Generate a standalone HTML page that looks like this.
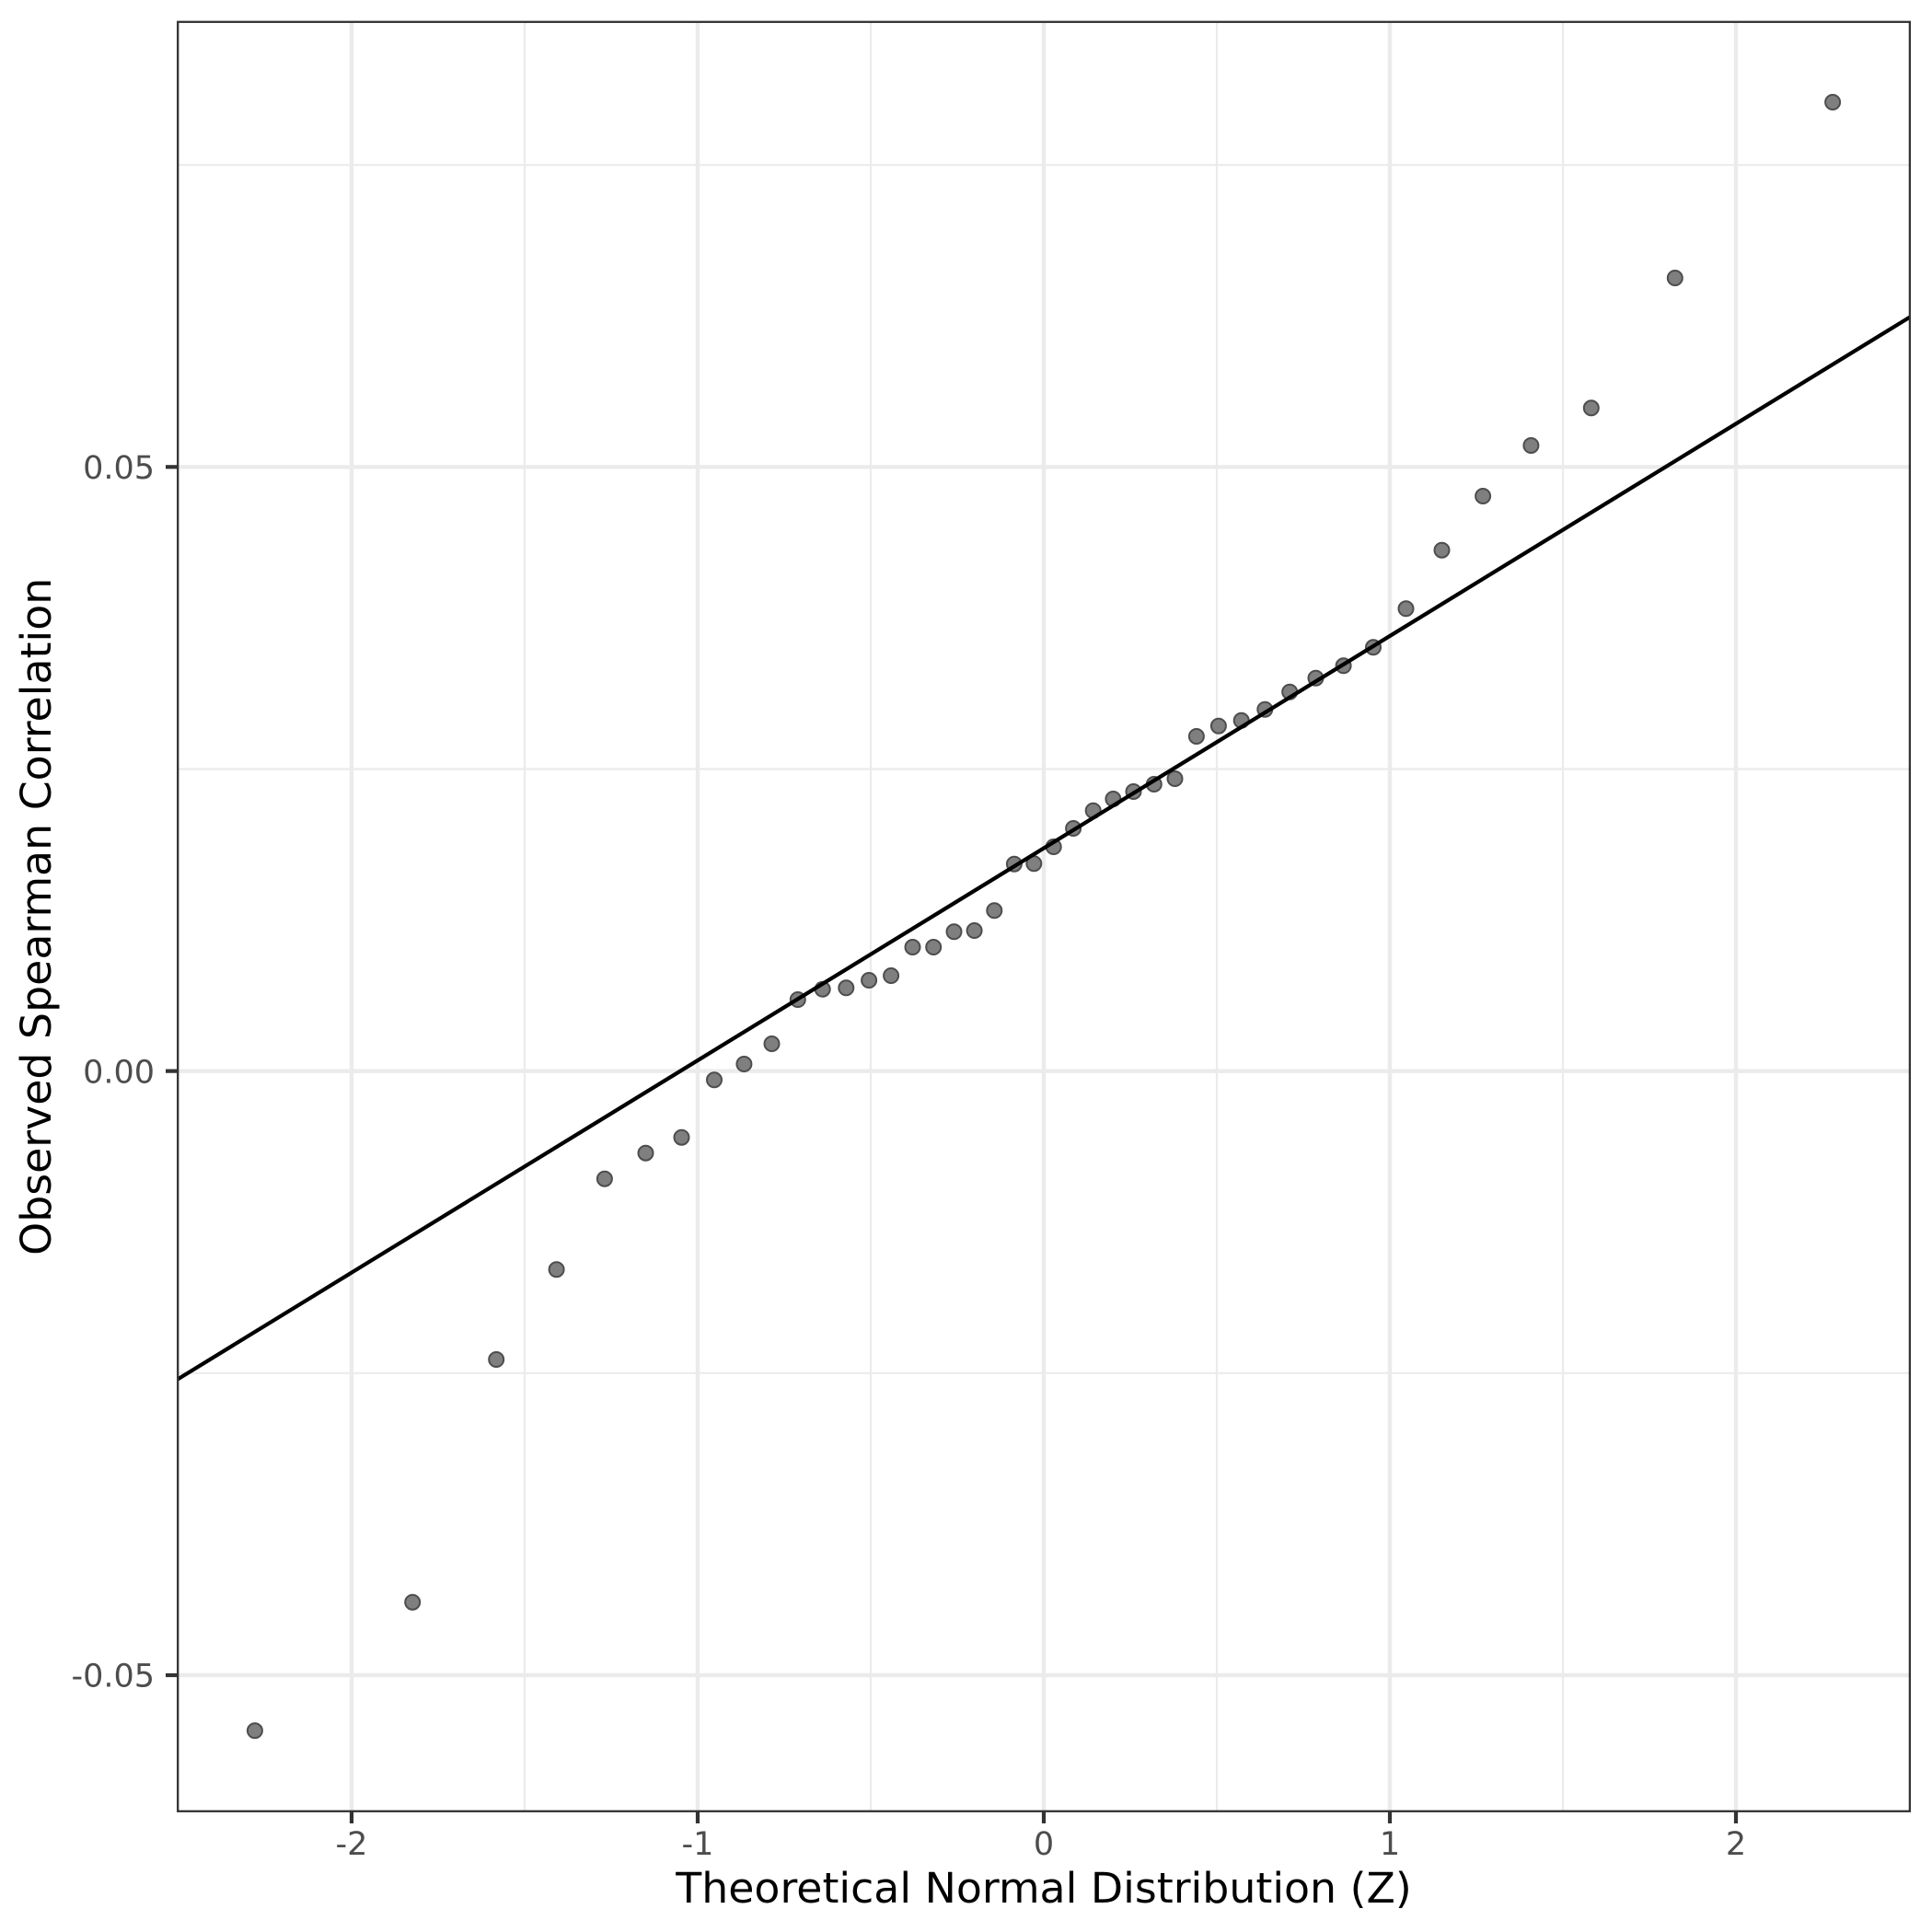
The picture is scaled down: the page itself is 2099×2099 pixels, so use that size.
<!DOCTYPE html>
<html>
<head>
<meta charset="utf-8">
<style>
html,body{margin:0;padding:0;background:#fff;}
svg{display:block;}
text{font-family:"DejaVu Sans","Liberation Sans",sans-serif;}
</style>
</head>
<body>
<svg width="2099" height="2099" viewBox="0 0 2099 2099" xmlns="http://www.w3.org/2000/svg">
<rect x="0" y="0" width="2099" height="2099" fill="#ffffff"/>
<g stroke="#ebebeb" stroke-width="2.2" fill="none">
<line x1="193" y1="179.2" x2="2075" y2="179.2"/>
<line x1="193" y1="835.5" x2="2075" y2="835.5"/>
<line x1="193" y1="1491.8" x2="2075" y2="1491.8"/>
<line x1="570" y1="24" x2="570" y2="1968"/>
<line x1="946" y1="24" x2="946" y2="1968"/>
<line x1="1322" y1="24" x2="1322" y2="1968"/>
<line x1="1698" y1="24" x2="1698" y2="1968"/>
</g>
<g stroke="#ebebeb" stroke-width="4.4" fill="none">
<line x1="193" y1="507.3" x2="2075" y2="507.3"/>
<line x1="193" y1="1163.65" x2="2075" y2="1163.65"/>
<line x1="193" y1="1820" x2="2075" y2="1820"/>
<line x1="382" y1="24" x2="382" y2="1968"/>
<line x1="758" y1="24" x2="758" y2="1968"/>
<line x1="1134" y1="24" x2="1134" y2="1968"/>
<line x1="1510" y1="24" x2="1510" y2="1968"/>
<line x1="1886" y1="24" x2="1886" y2="1968"/>
</g>
<g fill="#7f7f7f" stroke="#4d4d4d" stroke-width="2">
<circle cx="276.9" cy="1880.3" r="8"/>
<circle cx="448.2" cy="1740.7" r="8"/>
<circle cx="539.2" cy="1477" r="8"/>
<circle cx="604.6" cy="1379.3" r="8"/>
<circle cx="656.9" cy="1280.7" r="8"/>
<circle cx="701.5" cy="1252.7" r="8"/>
<circle cx="740.5" cy="1235.7" r="8"/>
<circle cx="776.0" cy="1173.3" r="8"/>
<circle cx="808.4" cy="1156" r="8"/>
<circle cx="838.5" cy="1134" r="8"/>
<circle cx="866.8" cy="1086" r="8"/>
<circle cx="893.7" cy="1074.7" r="8"/>
<circle cx="919.3" cy="1073.3" r="8"/>
<circle cx="944.1" cy="1065" r="8"/>
<circle cx="968.1" cy="1060" r="8"/>
<circle cx="991.5" cy="1029" r="8"/>
<circle cx="1014.2" cy="1029" r="8"/>
<circle cx="1036.5" cy="1012.3" r="8"/>
<circle cx="1058.6" cy="1011" r="8"/>
<circle cx="1080.3" cy="989.3" r="8"/>
<circle cx="1101.9" cy="938.7" r="8"/>
<circle cx="1123.3" cy="938.3" r="8"/>
<circle cx="1144.7" cy="920" r="8"/>
<circle cx="1166.1" cy="900" r="8"/>
<circle cx="1187.7" cy="880.7" r="8"/>
<circle cx="1209.4" cy="868" r="8"/>
<circle cx="1231.5" cy="860" r="8"/>
<circle cx="1253.8" cy="852" r="8"/>
<circle cx="1276.5" cy="846" r="8"/>
<circle cx="1299.9" cy="800" r="8"/>
<circle cx="1323.9" cy="788.7" r="8"/>
<circle cx="1348.7" cy="782.7" r="8"/>
<circle cx="1374.3" cy="770.7" r="8"/>
<circle cx="1401.2" cy="751.7" r="8"/>
<circle cx="1429.5" cy="736.7" r="8"/>
<circle cx="1459.6" cy="723.3" r="8"/>
<circle cx="1492.0" cy="703.3" r="8"/>
<circle cx="1527.5" cy="661.3" r="8"/>
<circle cx="1566.5" cy="597.7" r="8"/>
<circle cx="1611.1" cy="539" r="8"/>
<circle cx="1663.4" cy="484" r="8"/>
<circle cx="1728.8" cy="443.3" r="8"/>
<circle cx="1819.8" cy="302" r="8"/>
<circle cx="1991.1" cy="111" r="8"/>
</g>
<line x1="193" y1="1498.5" x2="2075" y2="344.5" stroke="#000" stroke-width="4.2"/>
<rect x="193.2" y="23.8" width="1881.7" height="1944" fill="none" stroke="#333333" stroke-width="2.3"/>
<g stroke="#333333" stroke-width="4.2">
<line x1="180" y1="507.3" x2="193" y2="507.3"/>
<line x1="180" y1="1163.65" x2="193" y2="1163.65"/>
<line x1="180" y1="1820" x2="193" y2="1820"/>
<line x1="382" y1="1968" x2="382" y2="1981"/>
<line x1="758" y1="1968" x2="758" y2="1981"/>
<line x1="1134" y1="1968" x2="1134" y2="1981"/>
<line x1="1510" y1="1968" x2="1510" y2="1981"/>
<line x1="1886" y1="1968" x2="1886" y2="1981"/>
</g>
<g fill="#4d4d4d" font-size="35" text-anchor="end">
<text x="168" y="520">0.05</text>
<text x="168" y="1176.4">0.00</text>
<text x="168" y="1832.7">-0.05</text>
</g>
<g fill="#4d4d4d" font-size="35" text-anchor="middle">
<text x="382" y="2015">-2</text>
<text x="758" y="2015">-1</text>
<text x="1134" y="2015">0</text>
<text x="1510" y="2015">1</text>
<text x="1886" y="2015">2</text>
</g>
<text x="1134" y="2067" font-size="45.8" fill="#000" text-anchor="middle">Theoretical Normal Distribution (Z)</text>
<text transform="translate(55,995.8) rotate(-90)" font-size="45.8" fill="#000" text-anchor="middle">Observed Spearman Correlation</text>
</svg>
</body>
</html>
